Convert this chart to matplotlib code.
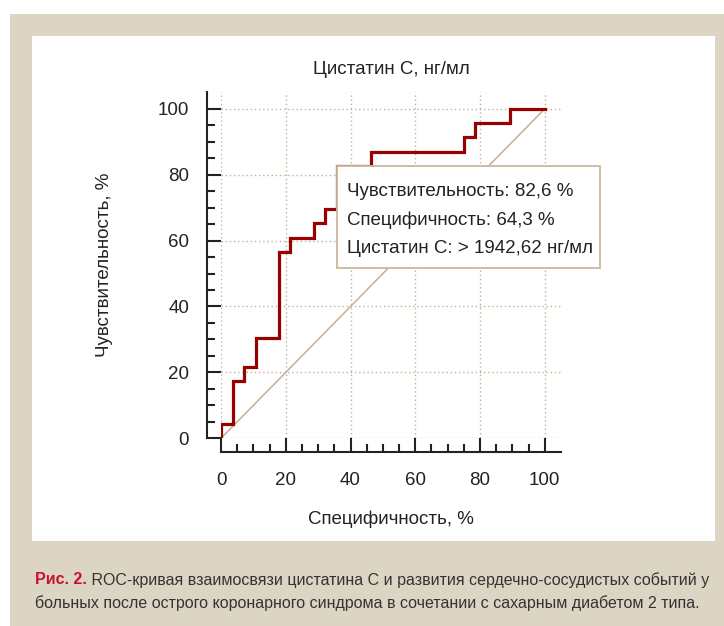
import matplotlib
matplotlib.use('Agg')
import matplotlib.pyplot as plt
from matplotlib.patches import Rectangle

# данные ROC-кривой (100 - специфичность, чувствительность), %
fpr = [0, 3.57, 7.14, 10.71, 17.86, 21.43, 28.57, 32.14, 35.71, 46.43, 75.0, 78.57, 89.29, 100]
tpr = [0, 4.35, 17.39, 21.74, 30.43, 56.52, 60.87, 65.22, 69.57, 82.61, 86.96, 91.30, 95.65, 100]

# точка отсечения
cut_x = 35.71
cut_y = 82.61
box_lines = ['Чувствительность: 82,6 %',
             'Специфичность: 64,3 %',
             'Цистатин C: > 1942,62 нг/мл']

title = 'Цистатин C, нг/мл'
xlabel = 'Специфичность, %'
ylabel = 'Чувствительность, %'
cap_head = 'Рис. 2.'
cap_line1 = 'ROC-кривая взаимосвязи цистатина С и развития сердечно-сосудистых событий у'
cap_line2 = 'больных после острого коронарного синдрома в сочетании с сахарным диабетом 2 типа.'

font = ['Liberation Sans', 'DejaVu Sans']
plt.rcParams['font.family'] = font

beige = '#ddd5c3'
tan = '#c4b092'
red = '#990000'
fs = 13.5

fig = plt.figure(figsize=(7.24, 6.26), dpi=100)
fig.patch.set_facecolor('white')

# фон
fig.patches.append(Rectangle((10/724, 0), 1, (626-14)/626, transform=fig.transFigure,
                             facecolor=beige, edgecolor='none', zorder=-10))
fig.patches.append(Rectangle((32/724, (626-541)/626), 683/724, 505/626, transform=fig.transFigure,
                             facecolor='white', edgecolor='none', zorder=-9))

ax = fig.add_axes([221/724, (626-438.3)/626, 340/724, 346/626])
ax.set_facecolor('none')

ax.plot([0, 100], [0, 100], color=tan, lw=1.1, zorder=2)
ax.plot(fpr, tpr, drawstyle='steps-pre', color=red, lw=2.3, zorder=3,
        solid_joinstyle='miter')

ax.set_xlim(0, 105)
ax.set_ylim(0, 105)
ax.set_xticks(range(0, 101, 20))
ax.set_yticks(range(0, 101, 20))
ax.set_xticks([v for v in range(0, 101, 5) if v % 20], minor=True)
ax.set_yticks([v for v in range(0, 101, 5) if v % 20], minor=True)

ax.grid(which='major', color=tan, linestyle=(0, (1, 2)), lw=1.0, zorder=1)

for s in ['top', 'right']:
    ax.spines[s].set_visible(False)
for s in ['left', 'bottom']:
    ax.spines[s].set_position(('outward', 10))
    ax.spines[s].set_linewidth(1.5)
    ax.spines[s].set_color('#222222')

ax.tick_params(which='major', direction='in', length=10, width=1.5, color='#222222',
               labelsize=fs, labelcolor='#222222')
ax.tick_params(which='minor', direction='in', length=6, width=1.5, color='#222222')
ax.tick_params(axis='y', which='major', pad=13)
ax.tick_params(axis='x', which='major', pad=14)

ax.set_title(title, fontsize=fs, color='#222222', pad=13)
ax.set_xlabel(xlabel, fontsize=fs, color='#222222', labelpad=16)
ax.set_ylabel(ylabel, fontsize=fs, color='#222222', labelpad=32)

# подсказка с точкой отсечения
bx1 = 117.0
by0 = 51.7
ax.add_patch(Rectangle((cut_x, by0), bx1 - cut_x, cut_y - by0, facecolor='white',
                       edgecolor='#c8b89c', lw=1.3, zorder=5, clip_on=False))
for i, line in enumerate(box_lines):
    ax.text(cut_x + 3.2, 74.8 - i * 8.6, line, fontsize=fs, color='#222222',
            va='center', ha='left', zorder=6, clip_on=False)

# подпись
t1 = fig.text(35/724, 1 - 580/626, cap_head, fontsize=11.5, fontweight='bold',
              color='#c8102e', va='center', ha='left')
ax.annotate(' ' + cap_line1, xy=(1, 0.5), xycoords=t1, va='center', ha='left',
            fontsize=11.5, color='#333333', annotation_clip=False)
fig.text(35/724, 1 - 603/626, cap_line2, fontsize=11.5, color='#333333',
         va='center', ha='left')

plt.savefig('out.png', dpi=100)
